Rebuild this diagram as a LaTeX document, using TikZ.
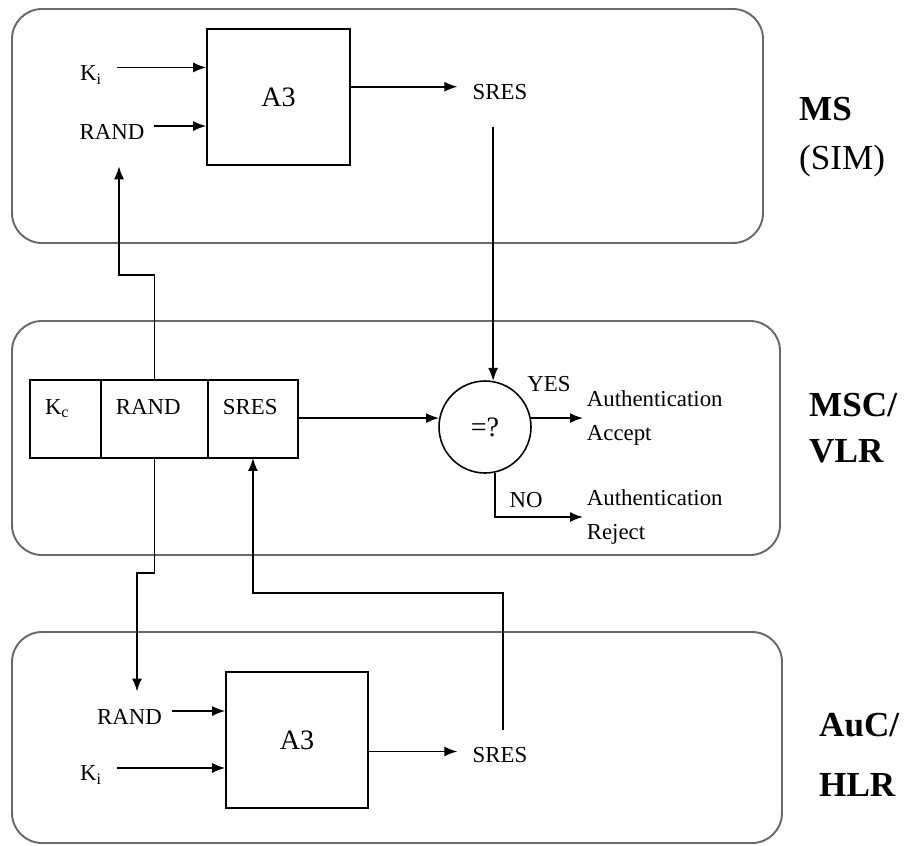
\documentclass[tikz,border=0pt]{standalone}
\usepackage{fontspec}
\setmainfont{Liberation Serif}
\usetikzlibrary{arrows.meta,positioning}
\definecolor{zonegray}{RGB}{105,105,105}

\begin{document}
\begin{tikzpicture}[x=0.02cm,y=-0.02cm]
  \tikzstyle{zone}=[draw=zonegray,line width=1.1pt,rounded corners=0.6cm]
  \tikzstyle{lbl}=[inner xsep=5.5pt,inner ysep=4pt,font=\fontsize{13}{19}\selectfont]
  \tikzstyle{algo}=[draw,line width=0.9pt,minimum width=2.86cm,minimum height=2.72cm,
    font=\fontsize{16}{19}\selectfont]
  \tikzstyle{cell}=[draw,line width=0.9pt,outer sep=0pt,inner xsep=0.3cm,minimum height=1.56cm,
    text height=9pt,text depth=14pt,align=left,font=\fontsize{13}{16}\selectfont]
  \tikzstyle{sig}=[-{Latex[length=2.6mm,width=2mm]},line width=0.95pt]
  \tikzstyle{who}=[anchor=west,align=left,font=\fontsize{20}{26}\selectfont]
  \useasboundingbox (0,0) rectangle (909,845);
  % The three entities
  \draw[zone] (12,9) rectangle (763,243);
  \draw[zone] (12,321) rectangle (780,555);
  \draw[zone] (12,632) rectangle (782,843);
  \node[who] (msLbl) at (793,137) {\textbf{MS}\\[2pt](SIM)};
  \node[who,font=\fontsize{20}{26}\selectfont\bfseries] (vlrLbl) at (803,428) {MSC/\\VLR};
  \node[who,font=\fontsize{20}{26}\selectfont\bfseries] (hlrLbl) at (813,755) {AuC/\\[8pt]HLR};
  % MS (SIM)
  \node[algo] (a3a) at (278.5,97) {A3};
  \node[lbl,inner xsep=8.5pt] (kiA) at (91,75) {K\textsubscript{i}};
  \node[lbl] (randA) at (112,132) {RAND};
  \node[lbl,inner xsep=8.5pt] (srA) at (500,92) {SRES};
  \draw[sig] ([yshift=4.3pt]kiA.east) -- ([yshift=4.3pt]kiA.east -| a3a.west);
  \draw[sig] ([yshift=3.4pt]randA.east) -- ([yshift=3.4pt]randA.east -| a3a.west);
  \draw[sig] ([yshift=3pt]srA.west -| a3a.east) -- ([yshift=3pt]srA.west);
  % MSC/VLR triplet and comparison
  \node[cell,text width=0.82cm] (kc) at (65.5,419) {K\textsubscript{c}};
  \node[cell,text width=1.54cm,right=0pt of kc] (rnd) {RAND};
  \node[cell,text width=1.2cm,right=0pt of rnd] (sres) {SRES};
  \node[circle,draw,line width=0.9pt,minimum size=1.84cm,inner sep=0pt,
    font=\fontsize{16}{19}\selectfont] (cmp) at (485,427) {=?};
  \node[lbl,anchor=west,align=left,inner xsep=2pt] (acc) at (583,418) {Authentication\\Accept};
  \node[lbl,anchor=west,align=left,inner xsep=2pt] (rej) at (583,517) {Authentication\\Reject};
  \node[lbl] (yes) at (549,384) {YES};
  \node[lbl] (no) at (526,500) {NO};
  \draw[sig] (sres.east |- cmp.169) -- (cmp.169);
  \draw[sig] (cmp.11) -- (cmp.11 -| acc.west);
  \draw[sig] (cmp.282) |- (rej.west);
  \draw[sig,shorten <=11.5pt] (srA.south -| cmp.80) -- (cmp.80);
  % AuC/HLR
  \node[algo,minimum width=2.84cm] (a3b) at (297,740) {A3};
  \node[lbl] (randB) at (129.5,717) {RAND};
  \node[lbl,inner xsep=8.5pt] (kiB) at (91,775) {K\textsubscript{i}};
  \node[lbl,inner xsep=8.5pt] (srB) at (500,755) {SRES};
  \draw[sig] ([yshift=3.4pt]randB.east) -- ([yshift=3.4pt]randB.east -| a3b.west);
  \draw[sig] ([yshift=4pt]kiB.east) -- ([yshift=4pt]kiB.east -| a3b.west);
  \draw[sig] ([yshift=2pt]srB.west -| a3b.east) -- ([yshift=2pt]srB.west);
  % RAND and SRES exchange between entities
  \coordinate (upA) at (119,275);
  \coordinate (dnB) at (137,573);
  \coordinate (upB) at (503,593);
  \draw[sig,shorten >=11pt] (rnd.north) |- (upA) -- (upA |- randA.south);
  \draw[sig,shorten >=6pt] (rnd.south) |- (dnB) -- (dnB |- randB.north);
  \draw[sig,shorten <=5.7pt] (srB.north -| upB) -- (upB) -| (sres.south);
\end{tikzpicture}
\end{document}
